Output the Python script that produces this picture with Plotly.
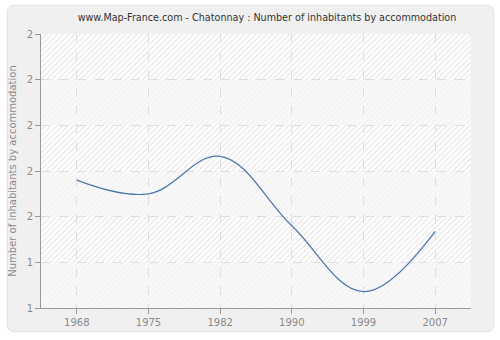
import plotly.graph_objects as go

years = ["1968", "1975", "1982", "1990", "1999", "2007"]
values = [1.70, 1.625, 1.83, 1.45, 1.09, 1.42]
y_ticks = [1.0, 1.25, 1.5, 1.75, 2.0, 2.25, 2.5]
y_tick_labels = ["1", "1", "2", "2", "2", "2", "2"]
band_starts = [1.0, 1.25, 1.5, 1.75, 2.0, 2.25]
band_colors = ["#ebebeb", "#d2d2d2", "#ebebeb", "#d2d2d2", "#ebebeb", "#d2d2d2"]
band_bg = ["#f9f9f9", "#ffffff", "#f9f9f9", "#ffffff", "#f9f9f9", "#ffffff"]

title = "www.Map-France.com - Chatonnay : Number of inhabitants by accommodation"
ytitle = "Number of inhabitants by accommodation"

W, H = 500, 340
L, R, T, B = 39, 29, 34, 30
pw, ph = W - L - R, H - T - B

def px(x):
    return (x - L) / pw

def py(y):
    return (H - B - y) / ph

# rounded outer panel path (paper coords)
x0, x1, y0, y1, r = 5, 494, 5, 334, 8
rx, ry = r / pw, r / ph
path = (f"M {px(x0)+rx} {py(y0)} L {px(x1)-rx} {py(y0)} Q {px(x1)} {py(y0)} {px(x1)} {py(y0)-ry} "
        f"L {px(x1)} {py(y1)+ry} Q {px(x1)} {py(y1)} {px(x1)-rx} {py(y1)} "
        f"L {px(x0)+rx} {py(y1)} Q {px(x0)} {py(y1)} {px(x0)} {py(y1)+ry} "
        f"L {px(x0)} {py(y0)-ry} Q {px(x0)} {py(y0)} {px(x0)+rx} {py(y0)} Z")

fig = go.Figure()

# hatched background bands (first subplot, hidden axes)
fig.add_trace(go.Bar(
    x=[0.5] * len(band_starts), y=[0.25] * len(band_starts), base=band_starts,
    width=1, xaxis="x", yaxis="y",
    marker=dict(color="white", line=dict(width=0),
                pattern=dict(shape="/", fgcolor=band_colors, bgcolor=band_bg,
                             size=4, solidity=0.35)),
    hoverinfo="skip", showlegend=False,
))

fig.add_trace(go.Scatter(
    x=years, y=values, xaxis="x2", yaxis="y2", mode="lines",
    line=dict(color="#4a74aa", width=1.2, shape="spline", smoothing=1.1),
    showlegend=False,
))

tickfont = dict(family="DejaVu Sans", size=10, color="#8a8a8a")

fig.update_layout(
    width=W, height=H,
    margin=dict(l=L, r=R, t=T, b=B),
    paper_bgcolor="white",
    plot_bgcolor="rgba(0,0,0,0)",
    bargap=0,
    title=dict(text=title, x=267 / W, xanchor="center", y=1 - 18 / H, yanchor="middle",
               font=dict(family="DejaVu Sans", size=9.6, color="#333333")),
    xaxis=dict(domain=[0, 1], range=[0, 1], visible=False, fixedrange=True),
    yaxis=dict(domain=[0, 1], range=[1, 2.5], visible=False, fixedrange=True),
    xaxis2=dict(domain=[0, 1], anchor="y2", type="category", range=[-0.5, 5.5],
                showgrid=True, gridcolor="#dedede", griddash="dash", gridwidth=1,
                showline=True, linecolor="#999999", linewidth=1,
                ticks="outside", ticklen=5, tickcolor="#999999",
                tickfont=tickfont, zeroline=False),
    yaxis2=dict(domain=[0, 1], anchor="x2", range=[1, 2.5],
                tickvals=y_ticks, ticktext=y_tick_labels,
                showgrid=True, gridcolor="#dedede", griddash="dash", gridwidth=1,
                showline=True, linecolor="#999999", linewidth=1,
                ticks="outside", ticklen=5, tickcolor="#999999",
                tickfont=tickfont, zeroline=False,
                title=dict(text=ytitle, font=dict(family="DejaVu Sans", size=10, color="#8a8a8a"),
                           standoff=8)),
    shapes=[dict(type="path", path=path, xref="paper", yref="paper", layer="below",
                 fillcolor="#f0f0f0", line=dict(color="#e2e2e2", width=1))],
)

fig.write_html("out.html")
